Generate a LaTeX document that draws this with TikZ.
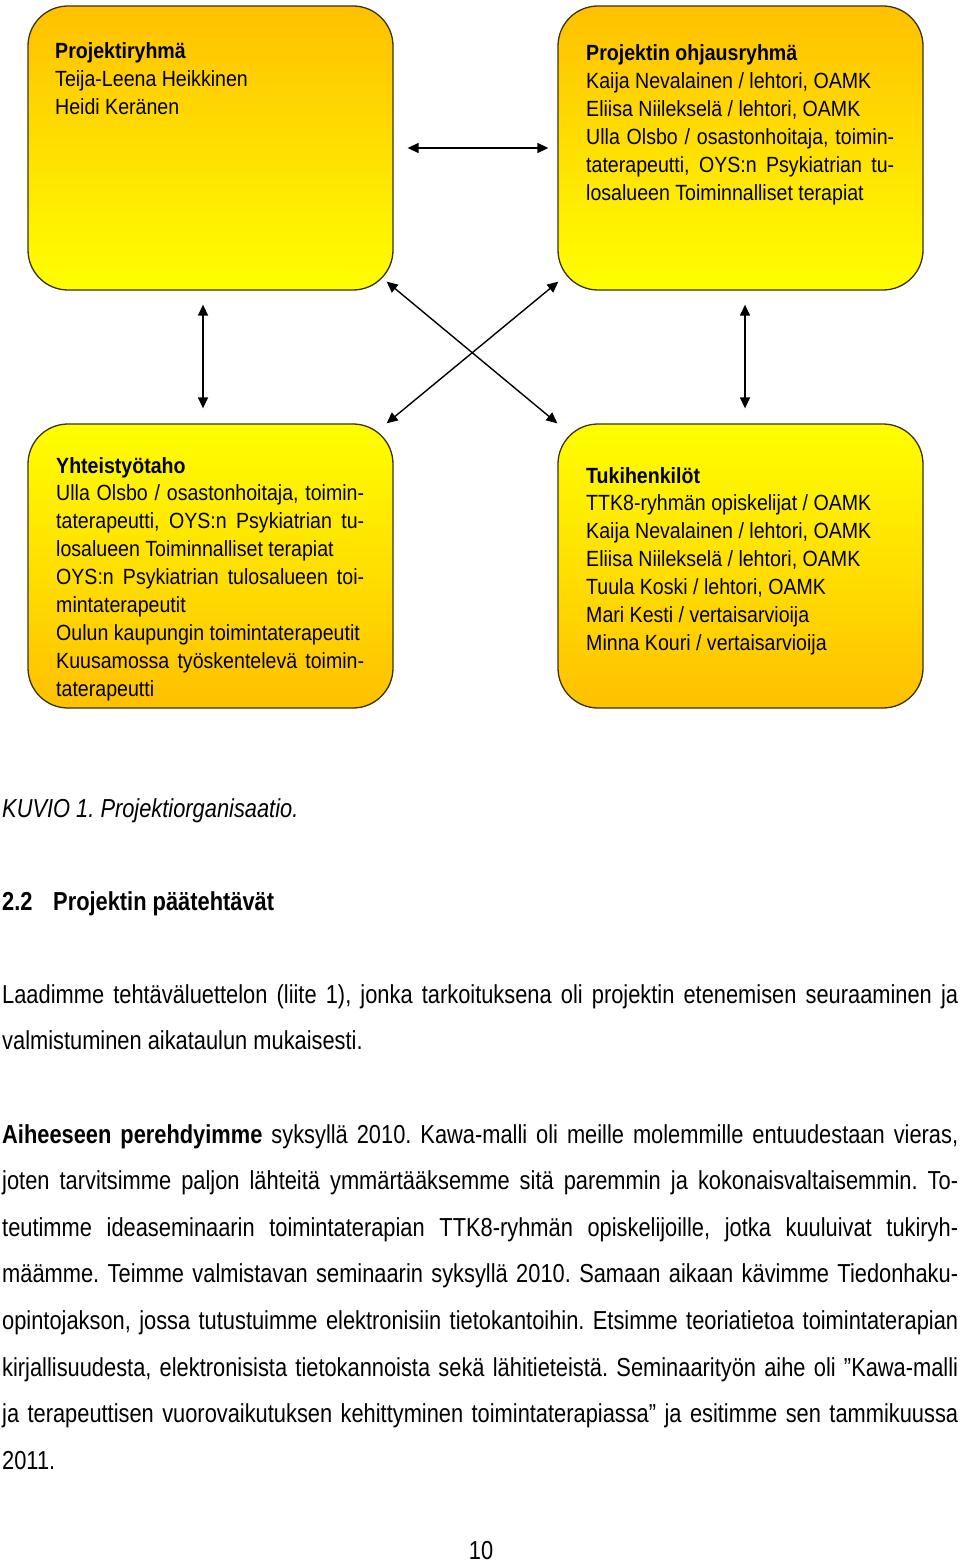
\documentclass[tikz,border=0pt]{standalone}
\usepackage{fontspec}
\setmainfont{Liberation Sans}
\newfontfamily\bodyfont[FakeStretch=0.84]{Liberation Sans}
\newfontfamily\boxfont[FakeStretch=0.89]{Liberation Sans}
\usetikzlibrary{arrows.meta}
\definecolor{boxorange}{RGB}{255,192,0}
\definecolor{boxyellow}{RGB}{255,255,0}
\definecolor{boxline}{RGB}{60,50,10}
\tikzset{
 orgbox/.style={draw=boxline, line width=1.3pt, rounded corners=40pt, minimum width=365pt, minimum height=284pt, inner sep=0pt},
 downgrad/.style={top color=boxorange, bottom color=boxyellow},
 upgrad/.style={top color=boxyellow, bottom color=boxorange},
 boxtext/.style={anchor=base west, inner sep=0pt, font=\boxfont\fontsize{22}{27.9}\selectfont, text=black},
 link/.style={{Triangle[length=11pt,width=10pt]}-{Triangle[length=11pt,width=10pt]}, line width=1.4pt, black},
 body/.style={anchor=base west, inner sep=0pt, font=\bodyfont\fontsize{26}{46.6}\selectfont, text=black},
}
\frenchspacing
\begin{document}
\frenchspacing
\begin{tikzpicture}[x=1pt, y=-1pt]
\fill[white] (0,0) rectangle (960,1562);
\useasboundingbox (0,0) rectangle (960,1562);

% boxes
\node[orgbox, downgrad] (b1) at (210.5,148) {};
\node[orgbox, downgrad] (b2) at (740.5,148) {};
\node[orgbox, upgrad] (b3) at (210.5,566) {};
\node[orgbox, upgrad] (b4) at (740.5,566) {};

% box texts
\node[boxtext] (t1) at (55,59) {\parbox[t]{330pt}{\textbf{Projektiryhmä}\\Teija-Leena Heikkinen\\Heidi Keränen}};
\node[boxtext] (t2) at (586,61) {\parbox[t]{330pt}{\textbf{Projektin ohjausryhmä}\\
Kaija Nevalainen / lehtori, OAMK\\
Eliisa Niilekselä / lehtori, OAMK\\
\makebox[308pt][s]{Ulla Olsbo / osastonhoitaja, toimin-}\\
\makebox[308pt][s]{taterapeutti, OYS:n Psykiatrian tu-}\\
losalueen Toiminnalliset terapiat}};
\node[boxtext] (t3) at (56,473) {\parbox[t]{330pt}{\textbf{Yhteistyötaho}\\
\makebox[308pt][s]{Ulla Olsbo / osastonhoitaja, toimin-}\\
\makebox[308pt][s]{taterapeutti, OYS:n Psykiatrian tu-}\\
losalueen Toiminnalliset terapiat\\
\makebox[308pt][s]{OYS:n Psykiatrian tulosalueen toi-}\\
mintaterapeutit\\
Oulun kaupungin toimintaterapeutit\\
\makebox[308pt][s]{Kuusamossa työskentelevä toimin-}\\
taterapeutti}};
\node[boxtext] (t4) at (586,483) {\parbox[t]{330pt}{\textbf{Tukihenkilöt}\\
TTK8-ryhmän opiskelijat / OAMK\\
Kaija Nevalainen / lehtori, OAMK\\
Eliisa Niilekselä / lehtori, OAMK\\
Tuula Koski / lehtori, OAMK\\
Mari Kesti / vertaisarvioija\\
Minna Kouri / vertaisarvioija}};

% connectors
\draw[link, shorten <=14pt, shorten >=9pt] (b1.east) -- (b2.west);
\draw[link, shorten <=14pt, shorten >=15pt] ([xshift=-7.5pt]b1.south) -- ([xshift=-7.5pt]b3.north);
\draw[link, shorten <=14pt, shorten >=15pt] ([xshift=4.5pt]b2.south) -- ([xshift=4.5pt]b4.north);
\draw[link] ([shift={(-7,-9)}]b1.south east) -- (b4.north west);
\draw[link] ([shift={(-7,0)}]b3.north east) -- ([shift={(1,-9)}]b2.south west);

% body text
\node[body] (cap) at (2,817) {\itshape KUVIO 1. Projektiorganisaatio.};
\node[body] (hnum) at (2,910) {\bfseries 2.2};
\node[body] (htitle) at (53,910) {\bfseries Projektin päätehtävät};
\node[body] (p1) at (2,1003) {\parbox[t]{956pt}{%
\makebox[956pt][s]{Laadimme tehtäväluettelon (liite 1), jonka tarkoituksena oli projektin etenemisen seuraaminen ja}\\
valmistuminen aikataulun mukaisesti.}};
\node[body] (p2) at (2,1143) {\parbox[t]{956pt}{%
\makebox[956pt][s]{\textbf{Aiheeseen perehdyimme} syksyllä 2010. Kawa-malli oli meille molemmille entuudestaan vieras,}\\
\makebox[956pt][s]{joten tarvitsimme paljon lähteitä ymmärtääksemme sitä paremmin ja kokonaisvaltaisemmin. To-}\\
\makebox[956pt][s]{teutimme ideaseminaarin toimintaterapian TTK8-ryhmän opiskelijoille, jotka kuuluivat tukiryh-}\\
\makebox[956pt][s]{määmme. Teimme valmistavan seminaarin syksyllä 2010. Samaan aikaan kävimme Tiedonhaku-}\\
\makebox[956pt][s]{opintojakson, jossa tutustuimme elektronisiin tietokantoihin. Etsimme teoriatietoa toimintaterapian}\\
\makebox[956pt][s]{kirjallisuudesta, elektronisista tietokannoista sekä lähitieteistä. Seminaarityön aihe oli ”Kawa-malli}\\
\makebox[956pt][s]{ja terapeuttisen vuorovaikutuksen kehittyminen toimintaterapiassa” ja esitimme sen tammikuussa}\\
2011.}};
\node[body, anchor=base] (pg) at (481,1559) {10};
\end{tikzpicture}
\end{document}
